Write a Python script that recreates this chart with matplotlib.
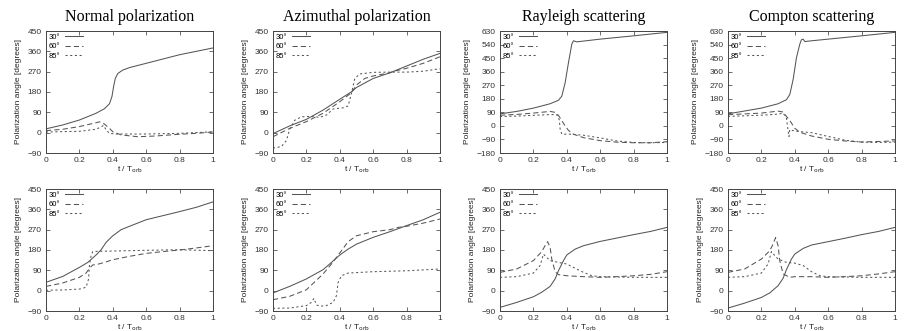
import matplotlib
matplotlib.use("Agg")
from matplotlib import pyplot as plt

# column titles
titles = ["Normal polarization", "Azimuthal polarization",
          "Rayleigh scattering", "Compton scattering"]
labels = ["30°", "60°", "85°"]

# ---- top row ----
# normal polarization
t_norm1_30 = [0, 0.1, 0.2, 0.3, 0.35, 0.38, 0.395, 0.405, 0.415, 0.43, 0.46, 0.5, 0.6, 0.7, 0.8, 0.9, 1.0]
y_norm1_30 = [17, 34, 56, 86, 106, 128, 160, 205, 240, 262, 277, 288, 307, 326, 345, 360, 375]
t_norm1_60 = [0, 0.1, 0.2, 0.3, 0.32, 0.35, 0.38, 0.4, 0.45, 0.55, 0.65, 0.8, 0.9, 1.0]
y_norm1_60 = [9, 15, 27, 44, 48, 38, 19, 4, -10, -18, -15, -7, -3, 3]
t_norm1_85 = [0, 0.2, 0.3, 0.33, 0.345, 0.36, 0.38, 0.42, 0.6, 0.8, 1.0]
y_norm1_85 = [3, 6, 15, 26, 32, 12, -3, -6, -6, -3, 4]

# azimuthal polarization
t_azi1_30 = [0, 0.1, 0.2, 0.3, 0.4, 0.47, 0.5, 0.6, 0.7, 0.8, 0.9, 1.0]
y_azi1_30 = [-4, 30, 59, 100, 148, 181, 200, 240, 265, 295, 325, 351]
t_azi1_60 = [0, 0.1, 0.2, 0.3, 0.4, 0.47, 0.5, 0.55, 0.6, 0.7, 0.73, 0.8, 0.9, 1.0]
y_azi1_60 = [-18, 19, 49, 86, 137, 177, 211, 240, 251, 265, 273, 285, 307, 336]
t_azi1_85 = [0, 0.05, 0.08, 0.1, 0.13, 0.17, 0.22, 0.28, 0.32, 0.36, 0.42, 0.45, 0.47, 0.49, 0.52, 0.6, 0.7, 0.8, 0.9, 1.0]
y_azi1_85 = [-68, -62, -35, 15, 55, 70, 72, 68, 78, 105, 110, 118, 175, 240, 260, 267, 268, 268, 272, 283]

# rayleigh scattering
t_ray1_30 = [0, 0.1, 0.2, 0.3, 0.35, 0.37, 0.39, 0.41, 0.43, 0.44, 0.46, 0.6, 0.8, 1.0]
y_ray1_30 = [80, 96, 118, 147, 170, 197, 286, 420, 543, 565, 558, 576, 598, 621]
t_ray1_60 = [0, 0.1, 0.2, 0.3, 0.33, 0.35, 0.37, 0.39, 0.41, 0.44, 0.5, 0.6, 0.7, 0.8, 0.9, 1.0]
y_ray1_60 = [71, 76, 85, 96, 90, 70, 35, 0, -30, -55, -78, -98, -108, -112, -112, -105]
t_ray1_85 = [0, 0.1, 0.2, 0.3, 0.34, 0.355, 0.36, 0.37, 0.42, 0.5, 0.6, 0.7, 0.8, 0.9, 1.0]
y_ray1_85 = [62, 65, 70, 75, 75, 40, -20, -55, -55, -62, -80, -100, -110, -112, -110]

# compton scattering
t_com1_30 = [0, 0.2, 0.3, 0.35, 0.37, 0.39, 0.41, 0.43, 0.44, 0.45, 0.46, 0.5, 0.8, 1.0]
y_com1_30 = [80, 118, 147, 174, 208, 308, 453, 543, 572, 576, 560, 565, 598, 621]
t_com1_60 = [0, 0.2, 0.3, 0.33, 0.35, 0.37, 0.4, 0.43, 0.5, 0.6, 0.7, 0.8, 1.0]
y_com1_60 = [74, 85, 98, 92, 63, 36, -16, -42, -67, -89, -100, -107, -100]
t_com1_85 = [0, 0.2, 0.3, 0.33, 0.35, 0.36, 0.365, 0.37, 0.4, 0.5, 0.6, 0.7, 0.8, 0.9, 1.0]
y_com1_85 = [63, 71, 78, 85, 51, -33, -71, -25, -35, -45, -70, -95, -108, -110, -108]

# ---- bottom row ----
t_norm2_30 = [0, 0.1, 0.2, 0.25, 0.3, 0.33, 0.36, 0.4, 0.45, 0.5, 0.6, 0.7, 0.8, 0.9, 1.0]
y_norm2_30 = [37, 63, 103, 125, 158, 181, 214, 243, 270, 285, 314, 332, 350, 369, 393]
t_norm2_60 = [0, 0.1, 0.2, 0.24, 0.26, 0.28, 0.3, 0.35, 0.4, 0.5, 0.6, 0.7, 0.8, 0.9, 1.0]
y_norm2_60 = [19, 34, 59, 78, 99, 114, 115, 125, 137, 152, 165, 173, 180, 189, 199]
t_norm2_85 = [0, 0.1, 0.2, 0.24, 0.255, 0.26, 0.27, 0.28, 0.3, 0.5, 0.7, 0.8, 1.0]
y_norm2_85 = [2, 3, 7, 15, 52, 111, 155, 173, 174, 177, 180, 181, 177]

t_azi2_30 = [0, 0.1, 0.2, 0.3, 0.35, 0.4, 0.45, 0.5, 0.6, 0.7, 0.8, 0.9, 1.0]
y_azi2_30 = [-10, 19, 52, 93, 125, 158, 184, 206, 236, 261, 288, 314, 347]
t_azi2_60 = [0, 0.1, 0.2, 0.3, 0.35, 0.4, 0.45, 0.5, 0.6, 0.7, 0.75, 0.8, 0.9, 1.0]
y_azi2_60 = [-40, -25, 4, 74, 118, 167, 217, 243, 261, 270, 280, 285, 299, 317]
t_azi2_85 = [0, 0.1, 0.2, 0.23, 0.245, 0.26, 0.28, 0.32, 0.36, 0.38, 0.39, 0.41, 0.45, 0.6, 0.8, 1.0]
y_azi2_85 = [-78, -77, -66, -52, -34, -63, -69, -66, -52, -22, 37, 66, 78, 84, 88, 96]

t_ray2_30 = [0, 0.1, 0.2, 0.25, 0.3, 0.33, 0.35, 0.38, 0.4, 0.45, 0.5, 0.6, 0.7, 0.8, 0.9, 1.0]
y_ray2_30 = [-74, -52, -27, -7, 19, 52, 88, 133, 158, 184, 199, 218, 233, 248, 262, 280]
t_ray2_60 = [0, 0.1, 0.2, 0.25, 0.27, 0.285, 0.3, 0.31, 0.33, 0.35, 0.4, 0.5, 0.6, 0.7, 0.8, 0.9, 1.0]
y_ray2_60 = [81, 96, 133, 173, 199, 217, 192, 140, 84, 71, 66, 62, 59, 62, 66, 72, 84]
t_ray2_85 = [0, 0.1, 0.2, 0.24, 0.26, 0.28, 0.3, 0.35, 0.4, 0.45, 0.5, 0.55, 0.6, 0.8, 1.0]
y_ray2_85 = [59, 62, 78, 111, 162, 147, 133, 125, 118, 99, 81, 66, 62, 59, 59]

t_com2_30 = [0, 0.1, 0.2, 0.25, 0.3, 0.33, 0.35, 0.38, 0.4, 0.45, 0.5, 0.6, 0.7, 0.8, 0.9, 1.0]
y_com2_30 = [-77, -55, -30, -10, 22, 55, 93, 140, 162, 187, 202, 217, 232, 248, 262, 280]
t_com2_60 = [0, 0.1, 0.2, 0.25, 0.27, 0.285, 0.3, 0.31, 0.33, 0.37, 0.4, 0.5, 0.6, 0.7, 0.8, 0.9, 1.0]
y_com2_60 = [81, 96, 140, 177, 206, 235, 199, 133, 74, 59, 62, 62, 59, 62, 66, 74, 84]
t_com2_85 = [0, 0.1, 0.2, 0.24, 0.26, 0.28, 0.3, 0.35, 0.4, 0.45, 0.5, 0.55, 0.6, 0.8, 1.0]
y_com2_85 = [59, 62, 78, 118, 173, 155, 140, 125, 122, 111, 84, 66, 62, 59, 59]

panels = [
    [(t_norm1_30, y_norm1_30), (t_norm1_60, y_norm1_60), (t_norm1_85, y_norm1_85)],
    [(t_azi1_30, y_azi1_30), (t_azi1_60, y_azi1_60), (t_azi1_85, y_azi1_85)],
    [(t_ray1_30, y_ray1_30), (t_ray1_60, y_ray1_60), (t_ray1_85, y_ray1_85)],
    [(t_com1_30, y_com1_30), (t_com1_60, y_com1_60), (t_com1_85, y_com1_85)],
    [(t_norm2_30, y_norm2_30), (t_norm2_60, y_norm2_60), (t_norm2_85, y_norm2_85)],
    [(t_azi2_30, y_azi2_30), (t_azi2_60, y_azi2_60), (t_azi2_85, y_azi2_85)],
    [(t_ray2_30, y_ray2_30), (t_ray2_60, y_ray2_60), (t_ray2_85, y_ray2_85)],
    [(t_com2_30, y_com2_30), (t_com2_60, y_com2_60), (t_com2_85, y_com2_85)],
]

plt.rcParams['font.family'] = ['Liberation Sans', 'DejaVu Sans']

W, H = 908, 331
fig = plt.figure(figsize=(W / 100, H / 100), dpi=100)

lefts = [46, 273, 500, 728]
tops = [31, 189]
aw, ah = 167, 122
styles = ['-', (0, (5, 3)), (0, (2, 2.5))]
line_col = '#555555'

for i, series in enumerate(panels):
    row, col = divmod(i, 4)
    ax = fig.add_axes([lefts[col] / W, (H - tops[row] - ah) / H, aw / W, ah / H])
    for (t, y), ls, lab in zip(series, styles, labels):
        ax.plot(t, y, color=line_col, lw=0.75, ls=ls, label=lab)
    if row == 0 and col >= 2:
        ax.set_ylim(-180, 630)
        ax.set_yticks(range(-180, 631, 90))
    else:
        ax.set_ylim(-90, 450)
        ax.set_yticks(range(-90, 451, 90))
    ax.set_xlim(0, 1)
    ax.set_xticks([0, 0.2, 0.4, 0.6, 0.8, 1.0])
    ax.set_xticklabels(["0", "0.2", "0.4", "0.6", "0.8", "1"])
    ax.tick_params(direction='in', top=True, right=True, labelsize=6,
                   length=3, width=0.5, colors='#333333', pad=3)
    for s in ax.spines.values():
        s.set_linewidth(0.7)
        s.set_color('#444444')
    ax.set_xlabel(r"t / T$_{\rm orb}$", fontsize=6, labelpad=0, color='#222222')
    ax.set_ylabel("Polarization angle [degrees]", fontsize=6, labelpad=4, color='#222222')
    ax.legend(loc='upper left', frameon=False, markerfirst=False, fontsize=5.5,
              handlelength=2.4, handletextpad=0.6, labelspacing=0.25,
              borderaxespad=0.15, borderpad=0.2)
    if row == 0:
        ax.set_title(titles[col], fontsize=11.5, family='Liberation Serif', pad=7)

fig.savefig("out.png", dpi=100)
